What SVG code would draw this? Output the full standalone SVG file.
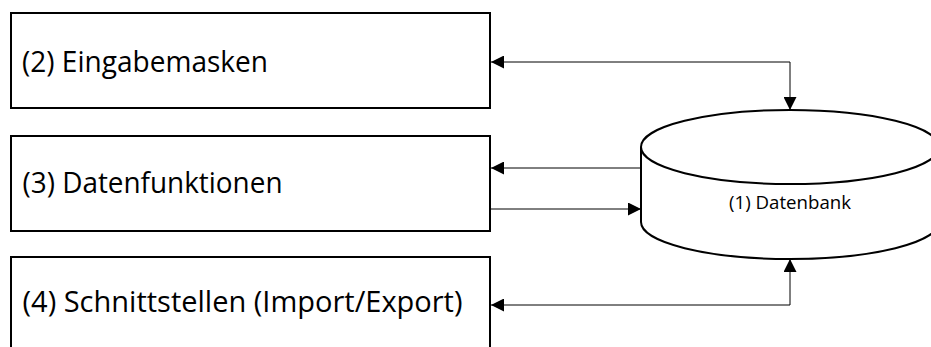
<svg xmlns="http://www.w3.org/2000/svg" width="931" height="347" viewBox="0 0 931 347">
<style>
.box{fill:#fff;stroke:#000;stroke-width:2}
.lbl{font-family:"Open Sans","Noto Sans",sans-serif;font-size:29px;fill:#000}
.db{fill:#fff;stroke:#000;stroke-width:2}
.dbl{font-family:"Open Sans","Noto Sans",sans-serif;font-size:18px;fill:#000}
.con{fill:none;stroke:#000;stroke-width:1}
</style>
<defs>
<marker id="arr" markerUnits="userSpaceOnUse" markerWidth="13" markerHeight="13" refX="13" refY="6.5" orient="auto-start-reverse">
<path d="M0,0 L13,6.5 L0,13 Z" fill="#000"/>
</marker>
</defs>
<rect width="931" height="347" fill="#fff"/>
<g id="node-eingabemasken">
<rect class="box" x="11" y="13" width="479" height="95"/>
<text class="lbl" x="22" y="72" textLength="246" lengthAdjust="spacingAndGlyphs">(2) Eingabemasken</text>
</g>
<g id="node-datenfunktionen">
<rect class="box" x="11" y="136" width="479" height="95"/>
<text class="lbl" x="22.5" y="193" textLength="260" lengthAdjust="spacingAndGlyphs">(3) Datenfunktionen</text>
</g>
<g id="node-schnittstellen">
<rect class="box" x="11" y="257" width="479" height="110"/>
<text class="lbl" x="22.5" y="312" textLength="440" lengthAdjust="spacingAndGlyphs">(4) Schnittstellen (Import/Export)</text>
</g>
<g id="node-datenbank">
<path class="db" d="M641,147 A149,37 0 0 1 939,147 L939,222 A149,37 0 0 1 641,222 Z"/>
<path class="db" fill="none" d="M641,147 A149,37 0 0 0 939,147"/>
<text class="dbl" x="790" y="209" text-anchor="middle" textLength="122" lengthAdjust="spacingAndGlyphs">(1) Datenbank</text>
</g>
<g id="connectors">
<polyline class="con" points="790,110 790,62 491,62" marker-start="url(#arr)" marker-end="url(#arr)"/>
<line class="con" x1="641" y1="168" x2="491" y2="168" marker-end="url(#arr)"/>
<line class="con" x1="490" y1="209" x2="641" y2="209" marker-end="url(#arr)"/>
<polyline class="con" points="790,259 790,305 491,305" marker-start="url(#arr)" marker-end="url(#arr)"/>
</g>
</svg>
